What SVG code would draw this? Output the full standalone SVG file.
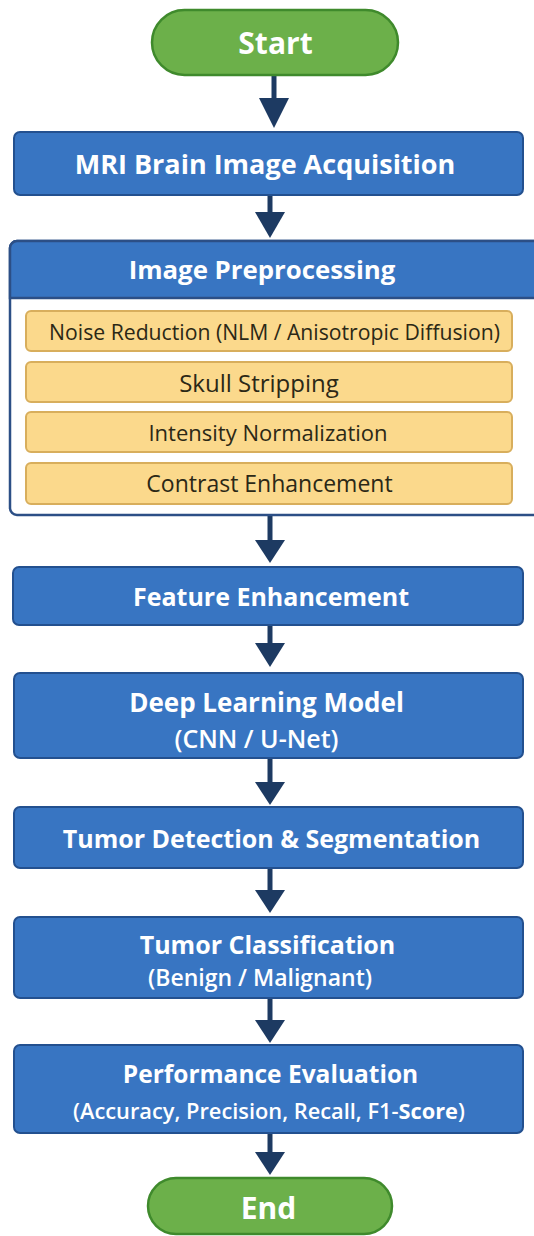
<svg xmlns="http://www.w3.org/2000/svg" width="534" height="1236" viewBox="0 0 534 1236">
<defs>
<style>
.box{fill:#3875c2;stroke:#23508f;stroke-width:2}
.pill{fill:#6cb04a;stroke:#3f8a2c;stroke-width:2.5}
.sub{fill:#fbd98c;stroke:#d8ae5c;stroke-width:2}
.cont{fill:#ffffff;stroke:#2c4f86;stroke-width:2.5}
.t{font-family:"Open Sans","Noto Sans","Liberation Sans",sans-serif;font-weight:bold;fill:#ffffff;text-anchor:middle;dominant-baseline:central}
.tl{font-size:25px}
.ts{font-weight:600}
.tp{font-size:30px}
.ty{font-family:"Open Sans","Noto Sans","Liberation Sans",sans-serif;font-size:22px;font-weight:500;fill:#2b2816;text-anchor:middle;dominant-baseline:central}
.arr{stroke:#1d3a62;stroke-width:5;fill:none}
.head{fill:#1d3a62}
</style>
</defs>
<rect width="534" height="1236" fill="#ffffff"/>
<g id="connectors">
<line class="arr" x1="274" y1="75" x2="274" y2="108"/><polygon class="head" points="259,98 289,98 274,128"/>
<line class="arr" x1="270" y1="195" x2="270" y2="222"/><polygon class="head" points="255,212 285,212 270,238"/>
<line class="arr" x1="270" y1="516" x2="270" y2="546"/><polygon class="head" points="255,540 285,540 270,563"/>
<line class="arr" x1="270" y1="625" x2="270" y2="650"/><polygon class="head" points="255,643 285,643 270,667"/>
<line class="arr" x1="270" y1="758" x2="270" y2="790"/><polygon class="head" points="255,782 285,782 270,805"/>
<line class="arr" x1="270" y1="868" x2="270" y2="897"/><polygon class="head" points="255,890 285,890 270,913"/>
<line class="arr" x1="270" y1="998" x2="270" y2="1027"/><polygon class="head" points="255,1020 285,1020 270,1043"/>
<line class="arr" x1="270" y1="1133" x2="270" y2="1160"/><polygon class="head" points="255,1152 285,1152 270,1175"/>
</g>
<g id="start">
<rect class="pill" x="152" y="10" width="246" height="65" rx="32.5"/>
<text class="t tp" x="275.5" y="42">Start</text>
</g>
<g id="mri">
<rect class="box" x="14" y="132" width="509" height="63" rx="6"/>
<text class="t tl" x="265" y="163" style="font-size:27px">MRI Brain Image Acquisition</text>
</g>
<g id="preprocessing">
<rect class="cont" x="10" y="241" width="535" height="274" rx="7"/>
<path d="M10,298 V248 a7,7 0 0 1 7,-7 H545 V298 Z" fill="#3875c2" stroke="#2c4f86" stroke-width="2.5"/>
<text class="t tl" x="262" y="269" style="font-size:25.8px">Image Preprocessing</text>
</g>
<g id="noise">
<rect class="sub" x="26" y="311" width="486" height="40" rx="5"/>
<text class="ty" x="274.5" y="331" style="font-size:21.2px">Noise Reduction (NLM / Anisotropic Diffusion)</text>
</g>
<g id="skull">
<rect class="sub" x="26" y="362" width="486" height="40" rx="5"/>
<text class="ty" x="259" y="382" style="font-size:24px">Skull Stripping</text>
</g>
<g id="intensity">
<rect class="sub" x="26" y="412" width="486" height="40" rx="5"/>
<text class="ty" x="268" y="432">Intensity Normalization</text>
</g>
<g id="contrast">
<rect class="sub" x="26" y="463" width="486" height="41" rx="5"/>
<text class="ty" x="269.5" y="483" style="font-size:23px">Contrast Enhancement</text>
</g>
<g id="feature">
<rect class="box" x="13" y="567" width="510" height="58" rx="6"/>
<text class="t tl" x="271" y="596">Feature Enhancement</text>
</g>
<g id="deep">
<rect class="box" x="14" y="673" width="509" height="85" rx="6"/>
<text class="t tl" x="266.5" y="702" style="font-size:26px">Deep Learning Model</text>
<text class="t ts" x="256.5" y="738" style="font-size:25px">(CNN / U-Net)</text>
</g>
<g id="detection">
<rect class="box" x="14" y="807" width="509" height="61" rx="6"/>
<text class="t tl" x="271.5" y="838">Tumor Detection &amp; Segmentation</text>
</g>
<g id="classification">
<rect class="box" x="14" y="917" width="509" height="81" rx="6"/>
<text class="t tl" x="267.5" y="943.5">Tumor Classification</text>
<text class="t ts" x="260" y="976.5" style="font-size:23px">(Benign / Malignant)</text>
</g>
<g id="performance">
<rect class="box" x="14" y="1045" width="509" height="88" rx="6"/>
<text class="t tl" x="270.5" y="1073" style="font-size:24.5px">Performance Evaluation</text>
<text class="t ts" x="269" y="1110" style="font-size:21.8px">(Accuracy, Precision, Recall, F1-<tspan font-weight="bold">Score</tspan>)</text>
</g>
<g id="end">
<rect class="pill" x="148" y="1178" width="244" height="56" rx="28"/>
<text class="t tp" x="268.5" y="1207">End</text>
</g>
</svg>
